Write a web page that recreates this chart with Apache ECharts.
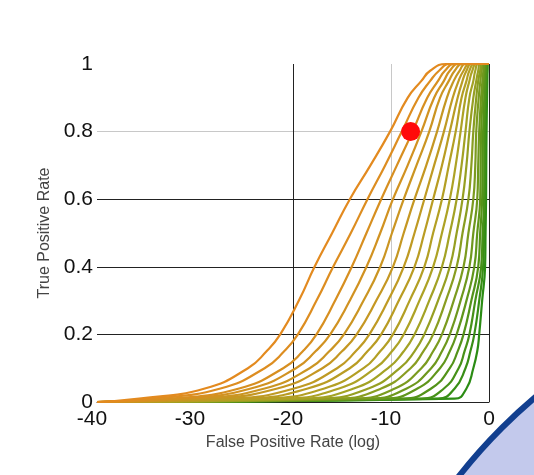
<!DOCTYPE html>
<html>
<head>
<meta charset="utf-8">
<title>ROC curves (log FPR)</title>
<script src="https://cdn.jsdelivr.net/npm/echarts@6/dist/echarts.min.js"></script>
<style>
  html, body { margin: 0; padding: 0; background: #fff; }
  #chart { width: 534px; height: 475px; }
</style>
</head>
<body>
<div id="chart"></div>
<script>
const TPR_LEVELS = [0, 0.01, 0.04, 0.1, 0.15, 0.2, 0.3, 0.4, 0.5, 0.6, 0.7, 0.8, 0.9, 0.95, 0.98, 1, 1]

// false positive rate (log) for each curve at those levels, orange -> green
const fprCurves = [
  [-40, -35.7, -29.0, -24.6, -22.7, -21.3, -19.4, -17.8, -16.0, -14.2, -12.1, -10.1, -8.3, -6.9, -6.0, -4.4, 0],
  [-40, -34.3, -27.4, -22.9, -20.9, -19.5, -17.6, -15.9, -14.1, -12.4, -10.6, -8.9, -7.2, -6.0, -5.1, -4.0, 0],
  [-40, -32.4, -25.5, -21.0, -19.0, -17.6, -15.7, -14.0, -12.5, -11.0, -9.4, -7.8, -6.3, -5.2, -4.5, -3.5, 0],
  [-40, -31.4, -24.3, -19.7, -17.7, -16.2, -14.2, -12.5, -11.1, -9.8, -8.3, -6.9, -5.6, -4.6, -4.0, -3.1, 0],
  [-40, -30.0, -22.9, -18.3, -16.3, -14.8, -12.8, -11.1, -9.9, -8.7, -7.4, -6.1, -5.0, -4.1, -3.5, -2.7, 0],
  [-40, -28.7, -21.6, -17.0, -15.0, -13.5, -11.5, -9.8, -8.7, -7.6, -6.4, -5.3, -4.3, -3.6, -3.0, -2.4, 0],
  [-40, -26.6, -19.9, -15.5, -13.6, -12.2, -10.3, -8.7, -7.6, -6.6, -5.6, -4.6, -3.7, -3.1, -2.6, -2.0, 0],
  [-40, -24.9, -18.5, -14.2, -12.4, -11.0, -9.2, -7.6, -6.6, -5.7, -4.8, -4.0, -3.2, -2.7, -2.3, -1.8, 0],
  [-40, -22.9, -16.8, -12.8, -11.1, -9.8, -8.1, -6.6, -5.7, -4.8, -4.1, -3.4, -2.8, -2.3, -2.0, -1.5, 0],
  [-40, -21.0, -15.3, -11.6, -9.9, -8.7, -7.1, -5.7, -4.8, -4.0, -3.4, -2.9, -2.4, -2.0, -1.7, -1.3, 0],
  [-40, -19.1, -13.8, -10.3, -8.7, -7.6, -6.1, -4.8, -4.0, -3.3, -2.8, -2.4, -2.0, -1.6, -1.4, -1.1, 0],
  [-40, -17.3, -12.3, -9.1, -7.6, -6.6, -5.2, -4.0, -3.3, -2.7, -2.3, -2.0, -1.6, -1.3, -1.1, -0.9, 0],
  [-40, -15.5, -11.0, -8.0, -6.7, -5.7, -4.4, -3.3, -2.7, -2.1, -1.8, -1.6, -1.3, -1.1, -0.9, -0.7, 0],
  [-40, -13.8, -9.6, -6.9, -5.7, -4.8, -3.6, -2.6, -2.1, -1.6, -1.4, -1.3, -1.05, -0.88, -0.75, -0.58, 0],
  [-40, -12.2, -8.4, -5.9, -4.8, -4.0, -2.9, -2.0, -1.6, -1.2, -1.1, -1.0, -0.81, -0.67, -0.57, -0.45, 0],
  [-40, -10.7, -7.3, -5.0, -4.0, -3.3, -2.3, -1.5, -1.2, -0.9, -0.85, -0.8, -0.65, -0.54, -0.46, -0.36, 0],
  [-40, -8.8, -5.9, -4.0, -3.2, -2.6, -1.8, -1.1, -0.9, -0.7, -0.65, -0.6, -0.48, -0.40, -0.34, -0.27, 0],
  [-40, -6.9, -4.6, -3.1, -2.5, -2.0, -1.4, -0.8, -0.65, -0.5, -0.48, -0.45, -0.37, -0.31, -0.26, -0.2, 0],
  [-40, -5.2, -3.5, -2.4, -1.9, -1.5, -1.0, -0.6, -0.5, -0.4, -0.38, -0.35, -0.29, -0.24, -0.2, -0.16, 0],
  [-40, -3.5, -2.3, -1.6, -1.2, -1.0, -0.7, -0.4, -0.35, -0.3, -0.28, -0.25, -0.2, -0.17, -0.15, -0.11, 0]
]

// the red operating point [fpr(log), tpr]
const operatingPoint = [-8, 0.8]

const FONT = 'Liberation Sans, Arial, Helvetica, sans-serif'

// orange -> olive -> green
function curveColor(i, n) {
  const stops = [[227, 138, 31], [170, 163, 37], [43, 140, 20]]
  const t = i / (n - 1) * 2
  const a = stops[Math.min(1, Math.floor(t))]
  const b = stops[Math.min(2, Math.floor(t) + 1)]
  const f = t - Math.min(1, Math.floor(t))
  const c = a.map((v, k) => Math.round(v + (b[k] - v) * f))
  return 'rgb(' + c.join(',') + ')'
}

const chart = echarts.init(document.getElementById('chart'), null, { renderer: 'canvas' })

const series = []
// green first so the orange curves end up on top
for (let i = fprCurves.length - 1; i >= 0; i--) {
  const color = curveColor(i, fprCurves.length)
  series.push({
    type: 'line',
    name: 'curve' + i,
    data: fprCurves[i].map((x, k) => [x, TPR_LEVELS[k]]),
    smooth: 0.5,
    showSymbol: false,
    clip: false,
    lineStyle: { color: color, width: 2.2 },
    itemStyle: { color: color },
    animation: false,
    z: 3
  })
}
series.push({
  type: 'scatter',
  data: [operatingPoint],
  symbolSize: 19,
  itemStyle: { color: '#ff0a0a', opacity: 1 },
  animation: false,
  z: 5
})

chart.setOption({
  backgroundColor: '#fff',
  animation: false,
  graphic: [{
    type: 'circle',
    shape: { cx: 883, cy: 809, r: 539 },
    style: { fill: '#c3c9ec', stroke: '#123f8f', lineWidth: 6 },
    z: 0
  }],
  grid: { left: 97, right: 45, top: 64, bottom: 73 },
  xAxis: {
    type: 'value',
    min: -40,
    max: 0,
    interval: 10,
    name: 'False Positive Rate (log)',
    nameLocation: 'middle',
    nameGap: 25,
    nameTextStyle: { fontFamily: FONT, fontSize: 16, color: '#444' },
    axisLine: { show: true, onZero: false, lineStyle: { color: '#222', width: 1 } },
    axisTick: { show: false },
    axisLabel: {
      margin: 7,
      fontFamily: FONT,
      fontSize: 21,
      color: '#111',
      formatter: v => v < 0 ? '{n|' + v + '}' : '{z|' + v + '}',
      rich: {
        n: { fontFamily: FONT, fontSize: 21, color: '#111', padding: [0, 10, 0, 0] },
        z: { fontFamily: FONT, fontSize: 21, color: '#111' }
      }
    },
    splitLine: {
      show: true,
      showMinLine: true,
      showMaxLine: true,
      lineStyle: { color: ['transparent', 'transparent', '#222', '#c8c8c8', '#222'], width: 1 }
    }
  },
  yAxis: {
    type: 'value',
    min: 0,
    max: 1,
    interval: 0.2,
    name: 'True Positive Rate',
    nameLocation: 'middle',
    nameGap: 41,
    nameTextStyle: { fontFamily: FONT, fontSize: 16, color: '#444' },
    axisLine: { show: false },
    axisTick: { show: false },
    axisLabel: {
      margin: 4,
      fontFamily: FONT,
      fontSize: 21,
      color: '#111',
      formatter: v => String(+v.toFixed(1))
    },
    splitLine: {
      show: true,
      showMinLine: true,
      showMaxLine: true,
      lineStyle: { color: ['transparent', '#222', '#222', '#222', '#c8c8c8', 'transparent'], width: 1 }
    }
  },
  series: series
})
</script>
</body>
</html>
